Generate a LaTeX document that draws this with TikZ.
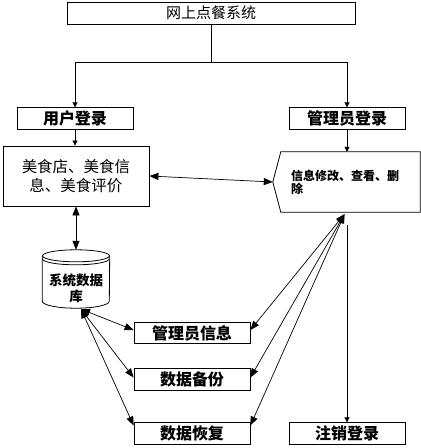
\documentclass[tikz,border=0pt]{standalone}
\usepackage{fontspec}
\setmainfont{Noto Sans CJK SC}
\usetikzlibrary{arrows.meta,positioning,calc}
\tikzset{
    >={Triangle[length=9pt,width=7pt]},
    small/.style={-{Triangle[length=5pt,width=5pt]}},
    box/.style={draw, line width=0.8pt, inner sep=0pt, minimum width=116pt, minimum height=21.5pt, font=\fontsize{16}{18}\selectfont\bfseries},
    link/.style={line width=0.7pt},
}
\begin{document}
\begin{tikzpicture}[x=1pt, y=1pt]
    \useasboundingbox (0,0) rectangle (421,-448);
    \node[box, minimum width=288pt, minimum height=22pt, font=\fontsize{15}{18}\selectfont] (sys) at (211,-13) {网上点餐系统};
    \node[box] (user) at (75,-118.5) {用户登录};
    \node[box] (adminlogin) at (347,-118.5) {管理员登录};
    \node[draw, line width=0.8pt, inner sep=0pt, minimum width=146pt, minimum height=60pt, align=center,
          font=\fontsize{15.5}{19}\selectfont] (food) at (76,-176) {美食店、美食信\\息、美食评价};
    \node[inner sep=0pt, inner xsep=10pt, minimum height=60pt, text width=119pt, align=left,
          font=\fontsize{12}{13}\selectfont\bfseries] (admin) at (350.5,-182) {信息修改、查看、删\\除};
    \coordinate (admintip) at ($(admin.west)+(-8,0)$);
    \draw[line width=0.8pt] (admin.north west) -- (admin.north east) -- (admin.south east)
        -- (admin.south west) -- (admintip) -- cycle;

    \node[minimum width=67pt, minimum height=58pt, inner sep=0pt] (db) at (76,-279) {};
    \draw[line width=0.8pt] ($(db.north)+(0,-6)$) ellipse [x radius=33.5pt, y radius=6pt];
    \draw[line width=0.8pt] ($(db.north west)+(0,-9)$) arc [start angle=180, end angle=360, x radius=33.5pt, y radius=6pt];
    \draw[line width=0.8pt] ($(db.north west)+(0,-6)$) -- ($(db.south west)+(0,7)$)
        arc [start angle=180, end angle=360, x radius=33.5pt, y radius=7pt] -- ($(db.north east)+(0,-6)$);
    \node[align=center, inner sep=0pt, font=\fontsize{13.5}{16}\selectfont\bfseries] (dblabel) at (76,-288) {系统数据\\库};

    \foreach \nm/\txt/\yy in {mgr/管理员信息/-333, backup/数据备份/-379.5, restore/数据恢复/-433.5} {
        \node[box] (\nm) at (192,\yy) {\txt};
    }
    \node[box] (logout) at (347,-433.5) {注销登录};

    \draw[link, small] (sys.south) -- ++(0,-38) -| (user.north);
    \draw[link, small] (sys.south) -- ++(0,-38) -| (adminlogin.north);
    \draw[link, small] (user.south) -- (user.south |- food.north);
    \draw[link, small] (adminlogin.south) -- (adminlogin.south |- admin.north);
    \draw[link, <->] (food.east) -- (admintip);
    \draw[link, <->] (food.south) -- (db.north);

    \coordinate (dbfoot) at ($(db.south)+(5,-1)$);
    \coordinate (adminfoot) at ($(admin.south)+(-6,-2)$);
    \foreach \nm/\dy in {mgr/3, backup/2, restore/8} {
        \draw[link, <->] (dbfoot) -- ([yshift=\dy pt]\nm.west);
        \draw[link, <->] (adminfoot) -- ([yshift=\dy pt]\nm.east);
    }
    \coordinate (logouttop) at (logout.north |- 0,-225);
    \draw[link, small] (logouttop) -- (logout.north);
\end{tikzpicture}
\end{document}
